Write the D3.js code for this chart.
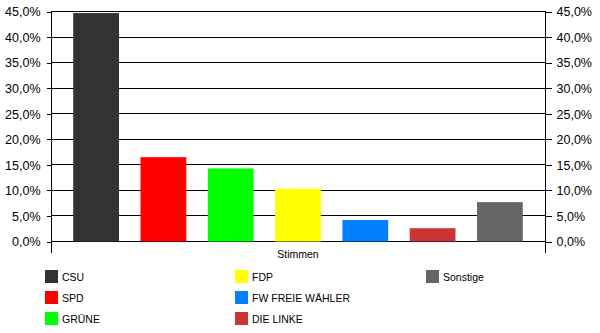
<!DOCTYPE html>
<html>
<head>
<meta charset="utf-8">
<script src="https://cdn.jsdelivr.net/npm/d3@7"></script>
<style>
  body { margin: 0; background: #fff; }
  text { font-family: "Liberation Sans", Arial, sans-serif; fill: #000; }
</style>
</head>
<body>
<div id="chart"></div>
<script>
// party results (share of votes, %)
const parties = ["CSU", "SPD", "GRÜNE", "FDP", "FW FREIE WÄHLER", "DIE LINKE", "Sonstige"];
const shares = [44.6, 16.4, 14.2, 10.2, 4.1, 2.5, 7.6];
const colors = ["#333333", "#ff0000", "#00ff00", "#ffff00", "#0080ff", "#cc3333", "#666666"];
const yTicks = [0, 5, 10, 15, 20, 25, 30, 35, 40, 45];
const categoryLabel = "Stimmen";

const width = 600, height = 333;
const plot = {left: 51, right: 545, top: 11, bottom: 241};

const svg = d3.select("#chart").append("svg")
    .attr("width", width)
    .attr("height", height);

const x = d3.scaleBand()
    .domain(parties)
    .range([plot.left, plot.right])
    .paddingInner(0.32)
    .paddingOuter(0.33);

const y = d3.scaleLinear()
    .domain([0, 45])
    .range([plot.bottom, plot.top]);

const fmt = d => d.toFixed(1).replace(".", ",") + "%";

// gridlines
svg.append("g")
    .selectAll("line")
    .data(yTicks)
    .join("line")
    .attr("x1", plot.left)
    .attr("x2", plot.right)
    .attr("y1", d => Math.round(y(d)) + 0.5)
    .attr("y2", d => Math.round(y(d)) + 0.5)
    .attr("stroke", "#000")
    .attr("shape-rendering", "crispEdges");

// bars
svg.append("g")
    .selectAll("rect")
    .data(parties)
    .join("rect")
    .attr("x", d => x(d))
    .attr("width", x.bandwidth())
    .attr("y", (d, i) => y(shares[i]))
    .attr("height", (d, i) => plot.bottom - y(shares[i]) + 0.5)
    .attr("fill", (d, i) => colors[i]);

// left axis
const leftAxis = svg.append("g")
    .attr("transform", `translate(${plot.left + 0.5},0.5)`)
    .call(d3.axisLeft(y).tickValues(yTicks).tickFormat(fmt).tickSizeInner(5).tickSizeOuter(0).tickPadding(6));

// right axis
const rightAxis = svg.append("g")
    .attr("transform", `translate(${plot.right + 0.5},0.5)`)
    .call(d3.axisRight(y).tickValues(yTicks).tickFormat(fmt).tickSizeInner(6).tickSizeOuter(0).tickPadding(5));

[leftAxis, rightAxis].forEach(ax => {
    ax.select(".domain").remove();
    ax.selectAll("line").attr("stroke", "#000").attr("shape-rendering", "crispEdges");
    ax.selectAll("text")
        .style("font-family", "'Liberation Sans', Arial, sans-serif")
        .style("font-size", "12.5px")
        .attr("dy", "0.35em");
});

// vertical axis lines, extending below the baseline
svg.append("g")
    .selectAll("line")
    .data([plot.left, plot.right])
    .join("line")
    .attr("x1", d => d + 0.5)
    .attr("x2", d => d + 0.5)
    .attr("y1", plot.top)
    .attr("y2", 253)
    .attr("stroke", "#000")
    .attr("shape-rendering", "crispEdges");

// category label
svg.append("text")
    .attr("x", (plot.left + plot.right) / 2)
    .attr("y", 258)
    .attr("text-anchor", "middle")
    .style("font-size", "10.5px")
    .text(categoryLabel);

// legend (three columns, filled top to bottom)
const legendCols = [45, 235, 426];
const legendRows = [270, 291, 312];
const legend = svg.append("g")
    .selectAll("g")
    .data(parties)
    .join("g")
    .attr("transform", (d, i) => `translate(${legendCols[Math.floor(i / 3)]},${legendRows[i % 3]})`);

legend.append("rect")
    .attr("width", 13)
    .attr("height", 13)
    .attr("fill", (d, i) => colors[i]);

legend.append("text")
    .attr("x", 17)
    .attr("y", 10.5)
    .style("font-size", "10.5px")
    .text(d => d);
</script>
</body>
</html>
